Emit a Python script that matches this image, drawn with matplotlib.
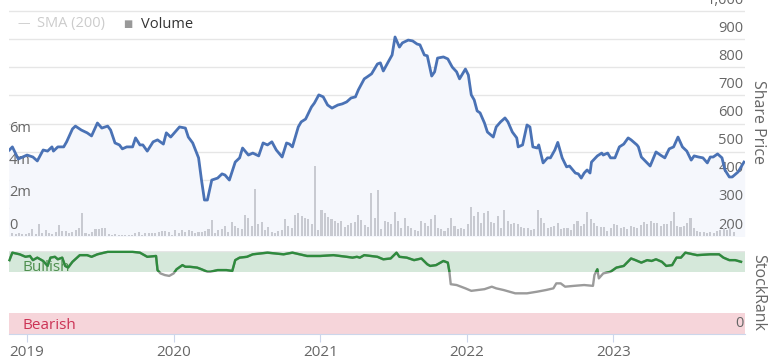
import numpy as np
import matplotlib
matplotlib.use("Agg")
import matplotlib.pyplot as plt
from matplotlib.patches import Rectangle
from matplotlib.transforms import blended_transform_factory, offset_copy

plt.rcParams['font.family'] = ['Open Sans', 'DejaVu Sans']

# Share price (decimal year, price)
price_t = [2018.88, 2018.90, 2018.94, 2018.97, 2019.00, 2019.04, 2019.07, 2019.11, 2019.14, 2019.17,
           2019.18, 2019.21, 2019.25, 2019.27, 2019.31, 2019.33, 2019.37, 2019.41, 2019.44, 2019.48,
           2019.51, 2019.55, 2019.57, 2019.60, 2019.63, 2019.65, 2019.68, 2019.72, 2019.74, 2019.77,
           2019.79, 2019.82, 2019.86, 2019.89, 2019.93, 2019.95, 2019.98, 2020.01, 2020.04, 2020.08,
           2020.10, 2020.13, 2020.17, 2020.19, 2020.21, 2020.23, 2020.26, 2020.30, 2020.33, 2020.35,
           2020.38, 2020.42, 2020.45, 2020.47, 2020.51, 2020.54, 2020.58, 2020.61, 2020.64, 2020.67,
           2020.70, 2020.74, 2020.77, 2020.79, 2020.81, 2020.85, 2020.87, 2020.90, 2020.94, 2020.96,
           2020.99, 2021.02, 2021.05, 2021.08, 2021.12, 2021.15, 2021.18, 2021.21, 2021.24, 2021.26,
           2021.30, 2021.32, 2021.35, 2021.39, 2021.41, 2021.43, 2021.46, 2021.49, 2021.51, 2021.54,
           2021.56, 2021.60, 2021.63, 2021.66, 2021.68, 2021.71, 2021.73, 2021.76, 2021.78, 2021.80,
           2021.84, 2021.87, 2021.90, 2021.93, 2021.95, 2021.99, 2022.01, 2022.03, 2022.05, 2022.07,
           2022.09, 2022.12, 2022.14, 2022.18, 2022.20, 2022.23, 2022.26, 2022.28, 2022.31, 2022.34,
           2022.35, 2022.38, 2022.41, 2022.43, 2022.45, 2022.48, 2022.49, 2022.52, 2022.55, 2022.57,
           2022.60, 2022.62, 2022.65, 2022.68, 2022.70, 2022.74, 2022.76, 2022.78, 2022.80, 2022.82,
           2022.84, 2022.85, 2022.89, 2022.92, 2022.93, 2022.96, 2022.98, 2023.01, 2023.04, 2023.07,
           2023.10, 2023.12, 2023.16, 2023.17, 2023.19, 2023.23, 2023.25, 2023.29, 2023.32, 2023.35,
           2023.38, 2023.41, 2023.44, 2023.47, 2023.50, 2023.53, 2023.55, 2023.58, 2023.61, 2023.64,
           2023.66, 2023.68, 2023.71, 2023.74, 2023.76, 2023.79, 2023.81, 2023.85, 2023.89]
price = [506, 517, 474, 481, 488, 481, 467, 506, 502, 517,
         502, 517, 517, 535, 581, 591, 577, 567, 556, 602,
         584, 591, 577, 531, 524, 510, 517, 517, 549, 524,
         524, 502, 535, 542, 527, 567, 552, 570, 588, 584,
         552, 531, 478, 399, 328, 328, 399, 406, 421, 417,
         399, 463, 478, 513, 488, 495, 485, 531, 524, 535,
         506, 481, 531, 527, 517, 588, 606, 616, 659, 673,
         702, 695, 666, 655, 666, 670, 677, 691, 695, 720,
         759, 766, 777, 812, 816, 787, 816, 844, 908, 872,
         887, 897, 894, 883, 880, 844, 841, 769, 784, 833,
         837, 830, 801, 784, 759, 794, 773, 702, 684, 645,
         638, 602, 570, 552, 588, 606, 620, 606, 570, 549,
         517, 524, 595, 588, 517, 513, 524, 460, 478, 478,
         506, 533, 478, 446, 449, 424, 421, 406, 424, 435,
         424, 463, 485, 495, 488, 495, 478, 478, 517, 527,
         549, 542, 524, 517, 481, 460, 449, 499, 488, 478,
         510, 517, 552, 517, 502, 470, 485, 481, 478, 460,
         481, 481, 492, 478, 435, 410, 410, 428, 463]

# Weekly volume (millions), first and last bar dates
vol_start, vol_end = 2018.90, 2023.82
volume = [0.17, 0.10, 0.17, 0.13, 0.10, 0.17, 0.46, 0.10, 0.73, 0.21,
          0.38, 0.21, 0.10, 0.25, 0.67, 0.31, 0.29, 0.21, 0.25, 0.38,
          0.52, 1.42, 0.21, 0.10, 0.25, 0.42, 0.46, 0.52, 0.52, 0.10,
          0.08, 0.10, 0.06, 0.08, 0.06, 0.08, 0.06, 0.17, 0.25, 0.08,
          0.21, 0.17, 0.21, 0.17, 0.25, 0.31, 0.29, 0.25, 0.08, 0.38,
          0.21, 0.38, 0.25, 0.38, 0.31, 0.21, 0.25, 0.25, 0.29, 0.42,
          1.00, 0.21, 0.38, 0.42, 0.63, 0.25, 0.88, 0.63, 0.52, 0.46,
          1.29, 1.15, 0.63, 2.92, 0.73, 0.88, 0.38, 0.58, 0.25, 0.21,
          0.31, 0.38, 1.04, 0.63, 0.52, 1.29, 1.46, 1.25, 1.15, 1.04,
          0.73, 4.38, 0.38, 1.63, 1.42, 1.21, 1.04, 0.94, 0.83, 0.94,
          0.58, 0.67, 0.79, 0.88, 1.29, 1.00, 0.67, 0.58, 2.67, 1.15,
          2.88, 0.42,
          0.94, 0.88, 0.73, 1.50, 0.94, 0.52, 1.15, 0.63, 0.52, 0.38,
          0.31, 0.94, 0.83, 0.63, 1.04, 1.29, 0.52, 0.42, 0.31, 0.52,
          1.15, 0.63, 0.42, 0.52, 0.42, 0.73, 1.83, 1.25, 1.50, 0.83,
          1.46, 1.56, 0.88, 0.79, 1.25, 0.52, 1.63, 0.94, 0.73, 0.79,
          0.73, 0.58, 0.52, 0.52, 0.38, 0.42, 1.63, 1.15, 0.79, 0.52,
          0.58, 0.63, 0.79, 0.46, 0.52, 0.52, 0.38, 0.73, 0.94, 0.63,
          0.73, 1.50, 1.08, 0.79, 0.63, 0.58, 0.58, 0.31, 0.52, 0.73,
          0.67, 0.52, 0.58, 0.46, 0.63, 0.58, 0.52, 0.67, 0.88, 0.73,
          0.94, 0.83, 0.79, 0.63, 0.73, 0.73, 0.94,
          1.50, 0.63, 0.58, 0.63, 0.79, 1.15, 0.52, 0.31, 0.25, 0.25,
          0.17, 0.25, 0.21, 0.31, 0.38, 0.52, 0.38, 0.52, 0.25]

# StockRank
rank_t = [2018.88, 2018.90, 2018.95, 2018.99, 2019.02, 2019.04, 2019.07, 2019.11, 2019.14, 2019.16,
          2019.19, 2019.21, 2019.24, 2019.26, 2019.28, 2019.31, 2019.36, 2019.41, 2019.44, 2019.48,
          2019.55, 2019.63, 2019.72, 2019.77, 2019.82, 2019.88, 2019.89, 2019.91, 2019.94, 2019.97,
          2020.00, 2020.02, 2020.06, 2020.08, 2020.11, 2020.16, 2020.19, 2020.23, 2020.25, 2020.30,
          2020.36, 2020.40, 2020.42, 2020.45, 2020.50, 2020.54, 2020.64, 2020.75, 2020.81, 2020.91,
          2021.00, 2021.09, 2021.18, 2021.22, 2021.25, 2021.27, 2021.30, 2021.39, 2021.43, 2021.48,
          2021.52, 2021.54, 2021.59, 2021.64, 2021.69, 2021.73, 2021.75, 2021.79, 2021.84, 2021.87,
          2021.88, 2021.89, 2021.93, 2021.99, 2022.03, 2022.12, 2022.17, 2022.20, 2022.25, 2022.33,
          2022.41, 2022.48, 2022.54, 2022.59, 2022.61, 2022.64, 2022.67, 2022.73, 2022.80, 2022.86,
          2022.87, 2022.89, 2022.90, 2022.93, 2022.98, 2023.02, 2023.07, 2023.12, 2023.15, 2023.19,
          2023.23, 2023.26, 2023.29, 2023.33, 2023.36, 2023.40, 2023.43, 2023.46, 2023.49, 2023.57,
          2023.66, 2023.72, 2023.75, 2023.79, 2023.83, 2023.87]
rank = [89, 98, 96, 93, 94, 89, 92, 88, 82, 92,
        93, 90, 92, 82, 80, 87, 95, 95, 93, 96,
        99, 99, 99, 98, 93, 94, 77, 73, 71, 70,
        73, 78, 83, 81, 81, 80, 78, 75, 75, 77,
        77, 76, 89, 92, 93, 96, 98, 96, 98, 94,
        94, 95, 93, 92, 93, 92, 95, 93, 90, 91,
        98, 93, 92, 89, 91, 84, 82, 83, 88, 86,
        76, 60, 59, 55, 52, 54, 57, 55, 53, 49,
        49, 51, 53, 55, 61, 61, 57, 58, 59, 58,
        71, 78, 67, 73, 75, 80, 82, 91, 89, 86,
        89, 88, 90, 87, 82, 83, 92, 92, 98, 95,
        96, 96, 92, 89, 89, 87]

price_ticks = [200, 300, 400, 500, 600, 700, 800, 900, 1000]
price_labels = ["200", "300", "400", "500", "600", "700", "800", "900", "1,000"]
vol_ticks = [0, 2, 4, 6]
vol_labels = ["0", "2m", "4m", "6m"]
years = [2019, 2020, 2021, 2022, 2023]

W, H = 768, 359
fig = plt.figure(figsize=(W / 100, H / 100), dpi=100)
x0, x1 = 2018.877, 2023.897

# main panel: price area + volume bars
ax = fig.add_axes([9 / W, 1 - 236 / H, 736 / W, 226 / H])
ax.set_xlim(x0, x1)
ax.set_ylim(200, 1004)
for s in ax.spines.values():
    s.set_visible(False)
ax.set_xticks([])
ax.set_yticks(price_ticks)
ax.tick_params(axis="y", length=0, labelleft=False)
ax.grid(axis="y", color="#e6e6e6", lw=1)
ax.set_axisbelow(True)
ax.fill_between(price_t, price, 200, color="#f5f7fc", zorder=1)

axv = ax.twinx()
axv.set_ylim(0, 14.1)
axv.set_axis_off()
vol_t = np.linspace(vol_start, vol_end, len(volume))
axv.bar(vol_t, volume, width=(vol_end - vol_start) / len(volume) * 0.62,
        color="#c8cad1", zorder=2)

# price line on top of the bars
axp = ax.twinx()
axp.set_ylim(200, 1004)
axp.set_axis_off()
axp.plot(price_t, price, color="#4a72b5", lw=2.0, zorder=3, solid_joinstyle="round")

tr = blended_transform_factory(ax.transAxes, ax.transData)
tr_up = offset_copy(tr, fig=fig, x=0, y=2.5, units="points")
for v, lab in zip(price_ticks, price_labels):
    ax.text(0.998, v, lab, transform=tr_up, ha="right", va="bottom",
            fontsize=10.5, color="#666666")
trv = blended_transform_factory(axv.transAxes, axv.transData)
trv_up = offset_copy(trv, fig=fig, x=0, y=2.5, units="points")
for v, lab in zip(vol_ticks, vol_labels):
    axv.text(0.0, v, lab, transform=trv_up, ha="left", va="bottom",
             fontsize=10.5, color="#666666")

fig.text(750 / W, 1 - 122 / H, "Share Price", rotation=270, ha="left", va="center",
         fontsize=11.5, color="#666666")

# legend
fig.text(17 / W, 1 - 24 / H, "\u2014", fontsize=9, color="#cccccc", va="center")
fig.text(37 / W, 1 - 24 / H, "SMA (200)", fontsize=10.5, color="#cccccc", va="center")
fig.text(123 / W, 1 - 25 / H, "\u25a0", fontsize=7, color="#999999", va="center")
fig.text(141 / W, 1 - 24 / H, "Volume", fontsize=10.5, color="#333333", va="center")

# StockRank panel
ax2 = fig.add_axes([9 / W, 1 - 334 / H, 736 / W, 83 / H])
ax2.set_xlim(x0, x1)
ax2.set_ylim(0, 100)
for k, s in ax2.spines.items():
    s.set_visible(k == "bottom")
ax2.spines["bottom"].set_color("#ccd6eb")
ax2.axhspan(75, 100, color="#d5e8da", lw=0, zorder=0)
ax2.axhspan(0, 25, color="#f6d5da", lw=0, zorder=0)
ax2.axhline(100, color="#e6e6e6", lw=1, zorder=1)
ax2.set_yticks([])
ax2.set_xticks(years)
ax2.set_xticklabels([str(y) for y in years])
ax2.tick_params(axis="x", length=6, color="#ccd6eb", labelcolor="#666666",
                labelsize=11, pad=2)

ax2.plot(rank_t, rank, color="#9b9b9b", lw=1.7, zorder=2)
green = ax2.plot(rank_t, rank, color="#2e8b3d", lw=1.7, zorder=3)[0]
clip = Rectangle((x0 - 1, 75), 10, 50, transform=ax2.transData)
green.set_clip_path(clip)

tr2 = blended_transform_factory(ax2.transAxes, ax2.transData)
ax2.text(0.018, 80, "Bullish", transform=tr2, fontsize=11, color="#4e8f4e", va="center", zorder=1)
ax2.text(0.018, 10, "Bearish", transform=tr2, fontsize=11, color="#cc3355", va="center", zorder=1)
ax2.text(0.998, 0, "0", transform=offset_copy(tr2, fig=fig, x=0, y=2.5, units="points"),
         ha="right", va="bottom", fontsize=10.5, color="#666666")

fig.text(750 / W, 1 - 292 / H, "StockRank", rotation=270, ha="left", va="center",
         fontsize=11.5, color="#666666")

fig.savefig("out.png", dpi=100)
